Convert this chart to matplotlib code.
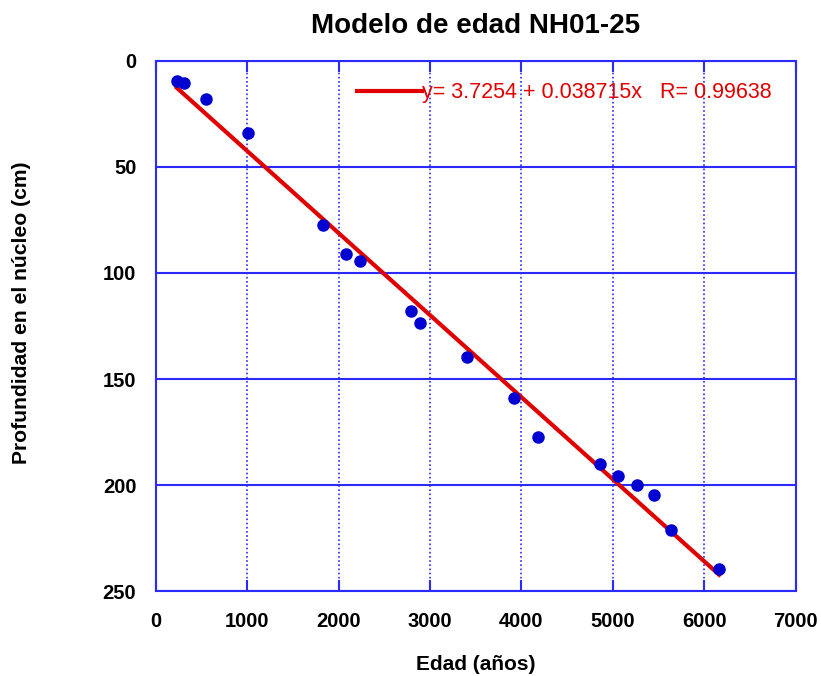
#!/usr/bin/env python3
"""Age model for core NH01-25: depth vs. age with linear fit."""

import matplotlib
matplotlib.use("Agg")
import matplotlib.pyplot as plt
import numpy as np

# data
edad = [230, 310, 550, 1010, 1830, 2079, 2239, 2793, 2891, 3400, 3923,
        4179, 4862, 5055, 5266, 5449, 5635, 6163]
profundidad = [9.3, 10.4, 17.9, 34.0, 77.4, 91.2, 94.3, 118.0, 123.7, 139.5,
               158.8, 177.5, 190.0, 195.6, 200.1, 204.7, 221.0, 239.6]

fit_a = 3.7254
fit_b = 0.038715
fit_r = 0.99638

x_ticks = [0, 1000, 2000, 3000, 4000, 5000, 6000, 7000]
y_ticks = [0, 50, 100, 150, 200, 250]

BLUE_AX = "#2b2bff"
BLUE_PT = "#0000d0"
RED = "#e00000"

plt.rcParams.update({
    "font.family": ["Liberation Sans", "DejaVu Sans"],
    "font.weight": "bold",
})

fig = plt.figure(figsize=(8.21, 6.76), dpi=100)
ax = fig.add_axes([0.1897, 0.1257, 0.7795, 0.7841])

ax.plot(edad, profundidad, "o", color=BLUE_PT, markersize=8, zorder=3)

xs = np.array([min(edad), max(edad)])
ax.plot(xs, fit_a + fit_b * xs, color=RED, linewidth=3, zorder=2,
        label=f"y= {fit_a} + {fit_b}x   R= {fit_r}")

ax.set_xlim(0, 7000)
ax.set_ylim(250, 0)
ax.set_xticks(x_ticks)
ax.set_yticks(y_ticks)

ax.xaxis.grid(True, color=BLUE_AX, linestyle=(0, (1, 1.5)), linewidth=1.2)
ax.yaxis.grid(True, color=BLUE_AX, linestyle="-", linewidth=1.5)
ax.set_axisbelow(True)

for sp in ax.spines.values():
    sp.set_color(BLUE_AX)
    sp.set_linewidth(1.5)

ax.tick_params(axis="x", direction="in", length=8, width=1.5, color=BLUE_AX,
               top=True, pad=15, labelsize=14.5)
ax.tick_params(axis="y", direction="in", length=0, pad=14, labelsize=14.5)
for lab in ax.get_xticklabels() + ax.get_yticklabels():
    lab.set_fontweight("bold")

ax.set_title("Modelo de edad NH01-25", fontsize=20, fontweight="bold", pad=20)

# axis titles placed in figure coords, as in the original layout
fig.text(475.7 / 821, 1 - 665 / 676, "Edad (años)", fontsize=15,
         fontweight="bold", ha="center", va="center")
fig.text(22 / 821, 1 - 313 / 676, "Profundidad en el núcleo (cm)",
         fontsize=15.2, fontweight="bold", ha="center", va="center",
         rotation=90)

leg = ax.legend(loc="center right", bbox_to_anchor=(0.962, 0.9396),
                frameon=False, handlelength=3.0, handletextpad=0.0,
                borderpad=0, borderaxespad=0,
                prop={"weight": "normal", "size": 15.5})
for t in leg.get_texts():
    t.set_color(RED)

fig.savefig("out.png", dpi=100)
